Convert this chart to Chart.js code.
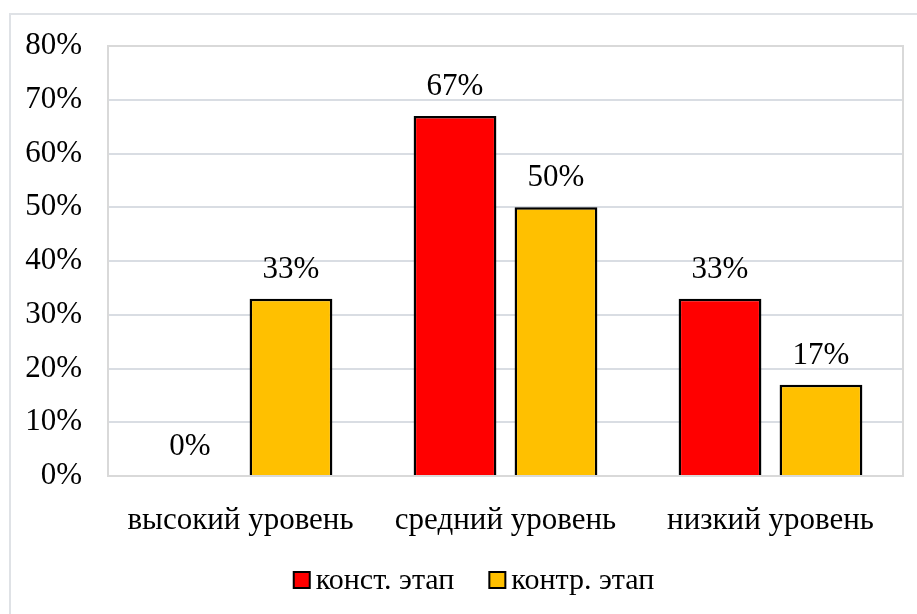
<!DOCTYPE html>
<html>
<head>
<meta charset="utf-8">
<script src="https://cdn.jsdelivr.net/npm/chart.js@4"></script>
<style>
  html, body { margin: 0; padding: 0; background: #fff; overflow: hidden; }
  #frame {
    position: absolute; left: 9px; top: 13px; width: 1000px; height: 700px;
    border: 2px solid #dfe2e6; box-sizing: border-box;
  }
  #wrap { position: absolute; left: 0; top: 0; width: 917px; height: 614px; }
</style>
</head>
<body>
<div id="frame"></div>
<div id="wrap"><canvas id="chart"></canvas></div>
<script>
const categories = ["высокий уровень", "средний уровень", "низкий уровень"]
const konstValues = [0, 67, 33]
const kontrValues = [33, 50, 17]
const seriesNames = ["конст. этап", "контр. этап"]
const yTicks = [0, 10, 20, 30, 40, 50, 60, 70, 80]

const FONT = "'Liberation Serif', 'Times New Roman', serif"

// рамка области построения
const plotBorder = {
    id: "plotBorder",
    afterDraw(chart) {
        const { ctx, chartArea: a } = chart
        ctx.save()
        ctx.strokeStyle = "#d9d9d9"
        ctx.lineWidth = 2
        ctx.strokeRect(a.left, a.top, a.right - a.left, a.bottom - a.top)
        ctx.restore()
    }
}

// подписи значений над столбцами
const valueLabels = {
    id: "valueLabels",
    afterDatasetsDraw(chart) {
        const ctx = chart.ctx
        ctx.save()
        ctx.font = "31px " + FONT
        ctx.fillStyle = "#000"
        ctx.textAlign = "center"
        ctx.textBaseline = "middle"
        chart.data.datasets.forEach((ds, i) => {
            chart.getDatasetMeta(i).data.forEach((bar, j) => {
                ctx.fillText(ds.data[j] + "%", bar.x, bar.y - 29)
            })
        })
        ctx.restore()
    }
}

// легенда снизу, как в Excel (квадрат вплотную к тексту)
const bottomLegend = {
    id: "bottomLegend",
    afterDraw(chart) {
        const ctx = chart.ctx
        const box = 16, gapText = 6, gapItem = 35, y = 580
        ctx.save()
        ctx.font = "30px " + FONT
        ctx.textBaseline = "middle"
        const items = chart.data.datasets.map(ds => ({
            text: ds.label,
            color: ds.backgroundColor,
            w: box + gapText + ctx.measureText(ds.label).width
        }))
        const total = items.reduce((s, it) => s + it.w, 0) + gapItem * (items.length - 1)
        let x = 474 - total / 2
        items.forEach(it => {
            ctx.fillStyle = it.color
            ctx.fillRect(x, y - box / 2, box, box)
            ctx.strokeStyle = "#000"
            ctx.lineWidth = 2
            ctx.strokeRect(x, y - box / 2, box, box)
            ctx.fillStyle = "#000"
            ctx.fillText(it.text, x + box + gapText, y + 1)
            x += it.w + gapItem
        })
        ctx.restore()
    }
}

new Chart(document.getElementById("chart"), {
    type: "bar",
    data: {
        labels: categories,
        datasets: [
            {
                label: seriesNames[0],
                data: konstValues,
                backgroundColor: "#ff0000",
                borderColor: "#000",
                borderWidth: 2.5,
                categoryPercentage: 0.762,
                barPercentage: 0.82
            },
            {
                label: seriesNames[1],
                data: kontrValues,
                backgroundColor: "#ffc000",
                borderColor: "#000",
                borderWidth: 2.5,
                categoryPercentage: 0.762,
                barPercentage: 0.82
            }
        ]
    },
    options: {
        responsive: true,
        maintainAspectRatio: false,
        animation: false,
        layout: {
            padding: { left: 0, right: 14, top: 46, bottom: 0 }
        },
        plugins: {
            legend: { display: false },
            tooltip: { enabled: false }
        },
        scales: {
            x: {
                grid: { display: false, drawTicks: false },
                border: { display: false },
                ticks: {
                    font: { family: FONT, size: 31 },
                    color: "#000",
                    padding: 26
                },
                afterFit: s => { s.height = 138 }
            },
            y: {
                min: 0,
                max: 80,
                afterBuildTicks: s => { s.ticks = yTicks.map(v => ({ value: v })) },
                grid: { color: "#d9dde3", lineWidth: 2, drawTicks: false },
                border: { display: false },
                ticks: {
                    font: { family: FONT, size: 31 },
                    color: "#000",
                    padding: 26,
                    callback: v => v + "%"
                },
                afterFit: s => { s.width = 108 }
            }
        }
    },
    plugins: [plotBorder, valueLabels, bottomLegend]
})
</script>
</body>
</html>
